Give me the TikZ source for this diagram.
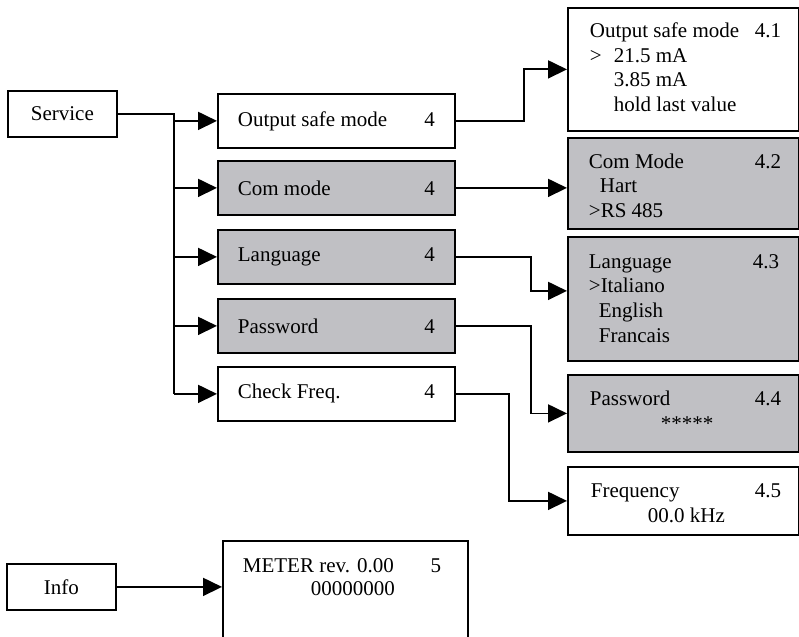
\documentclass[tikz,border=0pt]{standalone}
\usepackage{fontspec}
\setmainfont{Liberation Serif}
\usetikzlibrary{calc,arrows.meta}
\definecolor{menugray}{RGB}{192,192,196}
\newcommand{\entry}[2]{\makebox[197pt]{#1\hfill #2}}

\begin{document}
\begin{tikzpicture}[x=1pt, y=-1pt, line width=1.8pt,
  font=\fontsize{21}{24}\selectfont,
  box/.style={draw, rectangle, anchor=north west, inner sep=0pt},
  item/.style={box, minimum width=237pt, minimum height=54pt, inner xsep=20pt},
  screen/.style={box, minimum width=231pt},
  txt/.style={anchor=base west, inner sep=0pt},
  num/.style={anchor=base east, inner sep=0pt},
  arr/.style={-{Triangle[length=19pt, width=18pt]}}]
  \useasboundingbox (0,0) rectangle (799,636);
  \clip (0,0) rectangle (799,636);

  % menu Service
  \node[box, minimum width=109pt, minimum height=46pt] (srv) at (7,90) {Service};
  \node[item] (osm) at (217,93) {\entry{Output safe mode}{4}};
  \node[item, fill=menugray] (com) at (217,160) {\entry{Com mode}{4}};
  \node[item, fill=menugray] (lang) at (217,229) {\entry{Language}{4}};
  \node[item, fill=menugray] (pwd) at (217,298) {\entry{Password}{4}};
  \node[item] (chk) at (217,366) {\entry{Check Freq.}{4}};

  \coordinate (trunk) at ($(srv.east)+(56,0)$);
  \draw (srv.east) -- (trunk) -- (trunk |- chk.west);
  \foreach \n in {osm,com,lang,pwd,chk}
    \draw[arr] (trunk |- \n.west) -- (\n.west);

  % pagine 4.x
  \node[screen, minimum height=123pt] (s41) at (567,7) {};
  \node[screen, minimum height=91pt, fill=menugray] (s42) at (567,137) {};
  \node[screen, minimum height=124pt, fill=menugray] (s43) at (567,236) {};
  \node[screen, minimum height=77pt, fill=menugray] (s44) at (567,374) {};
  \node[screen, minimum height=68pt] (s45) at (567,466) {};

  \draw[arr] (osm.east) -- ++(68,0) |- (s41.west);
  \draw[arr] (com.east) -- (com.east -| s42.west);
  \draw[arr] (lang.east) -- ++(75,0) |- ($(s43.west)+(0,-8)$);
  \draw[arr] (pwd.east) -- ++(75,0) |- (s44.west);
  \draw[arr] (chk.east) -- ++(53,0) |- (s45.west);

  \node[txt] (t41) at (589,38) {Output safe mode};
  \node[num] (n41) at (782,38) {4.1};
  \node[txt] (gt41) at (589,63) {>};
  \node[txt] (a41) at (613,63) {21.5 mA};
  \node[txt] (b41) at (613,87) {3.85 mA};
  \node[txt] (c41) at (613,112) {hold last value};

  \node[txt] (t42) at (588,169) {Com Mode};
  \node[num] (n42) at (782,169) {4.2};
  \node[txt] (a42) at (599,193) {Hart};
  \node[txt] (b42) at (588,217) {>RS 485};

  \node[txt] (t43) at (588,268) {Language};
  \node[num] (n43) at (780,268) {4.3};
  \node[txt] (a43) at (588,292) {>Italiano};
  \node[txt] (b43) at (598,317) {English};
  \node[txt] (c43) at (598,342) {Francais};

  \node[txt] (t44) at (589,405) {Password};
  \node[num] (n44) at (782,405) {4.4};
  \node[anchor=base, inner sep=0pt] (a44) at (687,430) {*****};

  \node[txt] (t45) at (590,497) {Frequency};
  \node[num] (n45) at (782,497) {4.5};
  \node[txt] (a45) at (647,522) {00.0 kHz};

  % menu Info
  \node[box, minimum width=109pt, minimum height=46pt] (info) at (6,563) {Info};
  \node[box, minimum width=245pt, minimum height=110pt] (meter) at (222,540) {};
  \draw[arr] (info.east) -- (info.east -| meter.west);
  \node[txt] (t5) at (242,572) {METER rev. 0.00};
  \node[num] (n5) at (442,572) {5};
  \node[txt] (a5) at (310,595) {00000000};
\end{tikzpicture}
\end{document}
